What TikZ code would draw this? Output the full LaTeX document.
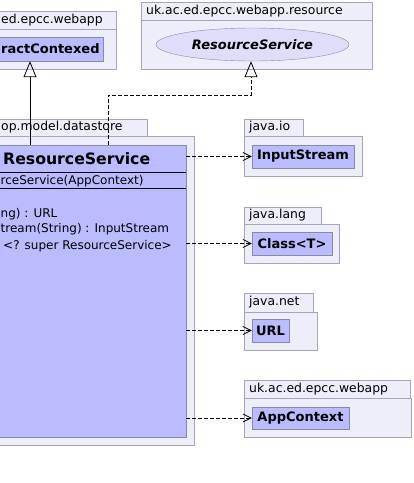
\documentclass[tikz,border=0pt]{standalone}
\usepackage{fontspec}
\setmainfont{DejaVu Sans}
\usetikzlibrary{arrows.meta,shapes.geometric}

\definecolor{pkgfill}{RGB}{238,238,251}
\definecolor{pkgline}{RGB}{165,165,182}
\definecolor{clsfill}{RGB}{187,187,255}
\definecolor{clsline}{RGB}{136,136,170}
\definecolor{ifcfill}{RGB}{222,222,250}

\tikzset{
  pkg/.style={draw=pkgline,fill=pkgfill},
  pkglabel/.style={inner sep=0pt,font=\fontsize{12.4}{15}\selectfont},
  cls/.style={draw=clsline,fill=clsfill,inner sep=0pt,font=\bfseries\fontsize{13}{15}\selectfont},
  member/.style={inner sep=0pt,anchor=west,font=\fontsize{12}{14}\selectfont},
  inherit/.style={line width=0.9pt,-{Triangle[open,length=16pt,width=13pt,line width=0.8pt]}},
  realize/.style={line width=0.9pt,dash pattern=on 4pt off 2pt,-{Triangle[open,length=16pt,width=13pt,line width=0.8pt]}},
  uses/.style={line width=0.9pt,dash pattern=on 4pt off 2pt,-{Straight Barb[length=8pt,width=8pt,line width=0.8pt]}}
}

\begin{document}
\begin{tikzpicture}[x=1pt,y=-1pt]
\useasboundingbox (0,0) rectangle (414,483);
\clip (0,0) rectangle (414,483);

%packages
\draw[pkg] (-40,11) rectangle (116,69); %uk.ac.ed.epcc.webapp (left)
\draw[pkgline] (-40,29) -- (116,29);
\draw[pkg] (141,2) rectangle (372,69); %uk.ac.ed.epcc.webapp.resource
\draw[pkgline] (141,20) -- (372,20);
\draw[pkg] (-40,119) rectangle (147,136); %datastore tab
\draw[pkg] (-40,136) rectangle (194,445); %datastore
\draw[pkg] (244,119) rectangle (303,136); %java.io tab
\draw[pkg] (244,136) rectangle (362,176);
\draw[pkg] (244,207) rectangle (321,224); %java.lang tab
\draw[pkg] (244,224) rectangle (339,263);
\draw[pkg] (244,293) rectangle (313,312); %java.net tab
\draw[pkg] (244,312) rectangle (317,350);
\draw[pkg] (244,380) rectangle (410,398); %webapp tab
\draw[pkg] (244,398) rectangle (411,437);

\node[pkglabel,anchor=west] (pwebapp) at (1,20) {ed.epcc.webapp};
\node[pkglabel,anchor=west] (presource) at (146,11) {uk.ac.ed.epcc.webapp.resource};
\node[pkglabel,anchor=west] (pdatastore) at (1,127.5) {op.model.datastore};
\node[pkglabel,anchor=west] (pio) at (249,127.5) {java.io};
\node[pkglabel,anchor=west] (plang) at (249,215.5) {java.lang};
\node[pkglabel,anchor=west] (pnet) at (249,302.5) {java.net};
\node[pkglabel,anchor=west] (pctx) at (249,389) {uk.ac.ed.epcc.webapp};

%classes
\node[cls,minimum width=146pt,minimum height=24pt] (abstract) at (30,49) {};
\node[cls,draw=none,anchor=west] (abstractname) at (1,49) {ractContexed};
\node[ellipse,draw=clsline,fill=ifcfill,minimum width=193pt,minimum height=33pt,inner sep=0pt,
  font=\bfseries\itshape\fontsize{13}{15}\selectfont] (rsvc) at (252.5,44.5) {ResourceService};
\node[cls,minimum width=246pt,minimum height=292pt] (svc) at (63,291) {};
\node[cls,minimum width=102pt,minimum height=23pt] (inputstream) at (303,156.5) {InputStream};
\node[cls,minimum width=80pt,minimum height=23pt] (classT) at (292,243.5) {Class<T>};
\node[cls,minimum width=37pt,minimum height=23pt] (url) at (270.5,330.5) {URL};
\node[cls,minimum width=97pt,minimum height=22pt] (appctx) at (300.5,418) {AppContext};

%class members
\node[member,font=\bfseries\fontsize{15.7}{18}\selectfont] (title) at (3,159) {ResourceService};
\draw (svc.west |- 0,172) -- (svc.east |- 0,172);
\node[member] (ctor) at (0.5,181) {rceService(AppContext)};
\draw (svc.west |- 0,188) -- (svc.east |- 0,188);
\node[member] (m1) at (0.5,214) {ng) : URL};
\node[member] (m2) at (0.5,229.5) {tream(String) : InputStream};
\node[member] (m3) at (3,246) {<? super ResourceService>};

%connectors
\draw[inherit] (abstract.south |- svc.north) -- (abstract.south);
\draw[realize] (svc.north -| 108,0) |- (251,95) -- (rsvc.south -| 251,0);
\draw[uses] (svc.east |- inputstream) -- (inputstream.west);
\draw[uses] (svc.east |- classT) -- (classT.west);
\draw[uses] (svc.east |- url) -- (url.west);
\draw[uses] (svc.east |- appctx) -- (appctx.west);
\end{tikzpicture}
\end{document}
